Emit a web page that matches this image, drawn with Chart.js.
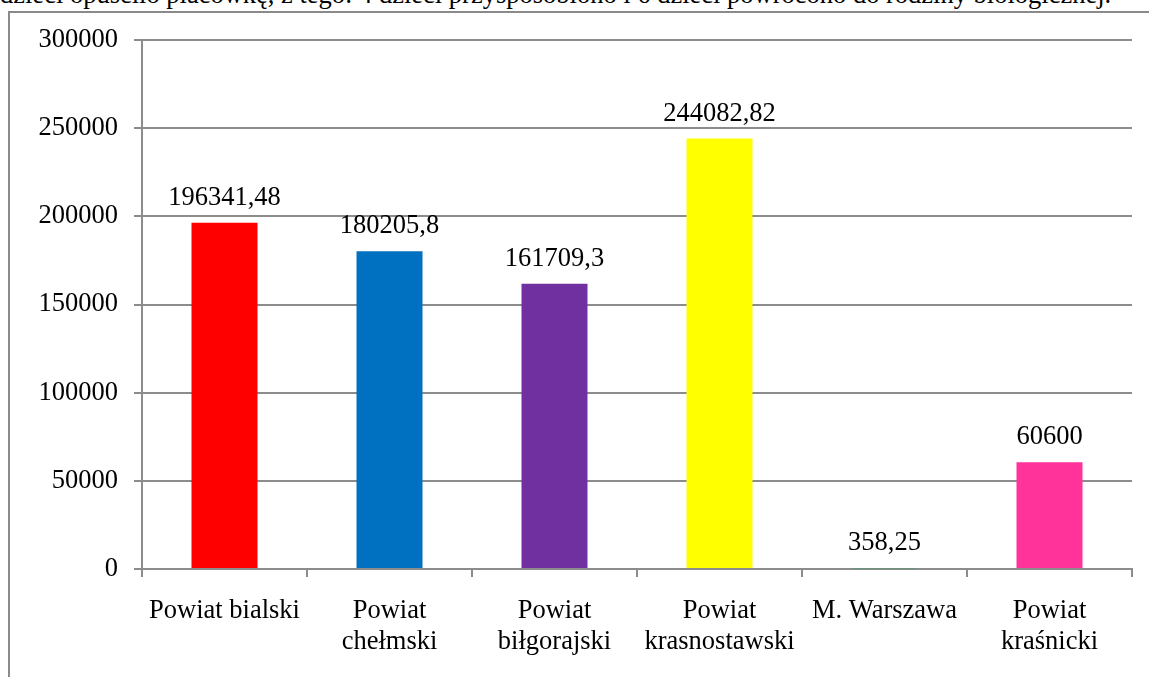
<!DOCTYPE html>
<html>
<head>
<meta charset="utf-8">
<script src="https://cdn.jsdelivr.net/npm/chart.js@4"></script>
<style>
  html, body { margin: 0; padding: 0; background: #fff; overflow: hidden; }
  body { width: 1149px; height: 677px; position: relative; font-family: "Liberation Serif", serif; }
  #note { position: absolute; left: 0; top: -19px; font-size: 26.5px; line-height: 26.5px; white-space: nowrap; color: #000; }
  #frame { position: absolute; left: 8px; top: 11px; width: 1160px; height: 700px; border: 2px solid #8a8a8a; box-sizing: border-box; }
  #wrap { position: absolute; left: 0; top: 0; width: 1149px; height: 677px; }
</style>
</head>
<body>
<div id="note">dzieci opuściło placówkę, z tego: 4 dzieci przysposobiono i 6 dzieci powrócono do rodziny biologicznej.</div>
<div id="frame"></div>
<div id="wrap"><canvas id="chart"></canvas></div>
<script>
const categories = [
  ["Powiat bialski"],
  ["Powiat", "chełmski"],
  ["Powiat", "biłgorajski"],
  ["Powiat", "krasnostawski"],
  ["M. Warszawa"],
  ["Powiat", "kraśnicki"],
];
const amounts = [196341.48, 180205.8, 161709.3, 244082.82, 358.25, 60600];
const barColors = ["#ff0000", "#0070c0", "#7030a0", "#ffff00", "#00b050", "#ff3399"];
const yTicks = [0, 50000, 100000, 150000, 200000, 250000, 300000];

const axisColor = "#8c8c8c";
const font = { family: "Liberation Serif", size: 26.5 };

// value labels above each bar, Polish decimal comma
const valueLabels = {
  id: "valueLabels",
  afterDatasetsDraw(chart) {
    const { ctx } = chart;
    const meta = chart.getDatasetMeta(0);
    ctx.save();
    ctx.font = `${font.size}px ${font.family}`;
    ctx.fillStyle = "#000";
    ctx.textAlign = "center";
    ctx.textBaseline = "alphabetic";
    meta.data.forEach((bar, i) => {
      const txt = String(amounts[i]).replace(".", ",");
      ctx.fillText(txt, bar.x, bar.y - 18);
    });
    ctx.restore();
  },
};

new Chart(document.getElementById("chart"), {
  type: "bar",
  data: {
    labels: categories,
    datasets: [
      {
        data: amounts,
        backgroundColor: barColors,
        borderWidth: 0,
        barPercentage: 0.4,
        categoryPercentage: 1,
      },
    ],
  },
  options: {
    responsive: true,
    maintainAspectRatio: false,
    animation: false,
    layout: { padding: { top: 40, right: 17, left: 0, bottom: 0 } },
    plugins: { legend: { display: false }, tooltip: { enabled: false } },
    scales: {
      y: {
        min: 0,
        max: 300000,
        afterBuildTicks: (scale) => {
          scale.ticks = yTicks.map((v) => ({ value: v }));
        },
        afterFit: (scale) => {
          scale.width = 142;
        },
        grid: { color: axisColor, lineWidth: 2, tickLength: 8 },
        border: { color: axisColor, width: 2 },
        ticks: { color: "#000", font: font, padding: 16, callback: (v) => String(v) },
      },
      x: {
        afterFit: (scale) => {
          scale.height = 108;
        },
        grid: {
          offset: true,
          drawOnChartArea: false,
          color: axisColor,
          lineWidth: 2,
          tickLength: 8,
        },
        border: { color: axisColor, width: 2 },
        ticks: { color: "#000", font: { ...font, lineHeight: "31px" }, padding: 19, maxRotation: 0, autoSkip: false },
      },
    },
  },
  plugins: [valueLabels],
});
</script>
</body>
</html>
